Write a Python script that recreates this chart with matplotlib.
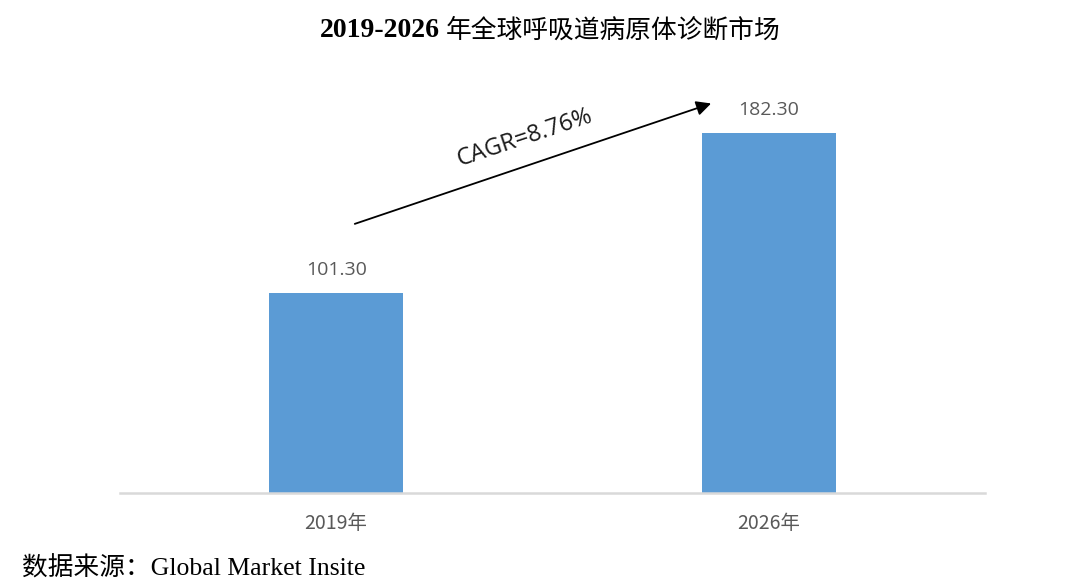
import matplotlib.pyplot as plt

years = ['2019年', '2026年']
market = [101.30, 182.30]
value_labels = ['101.30', '182.30']
cagr_text = 'CAGR=8.76%'
title_years = '2019-2026'
title_rest = '年全球呼吸道病原体诊断市场'
source = '数据来源：Global Market Insite'

plt.rcParams['font.family'] = ['Open Sans', 'Noto Sans CJK SC', 'DejaVu Sans']

fig = plt.figure(figsize=(10.8, 5.87), dpi=100)
ax = fig.add_axes([0.111, 0.160, 0.801, 0.704])

x = list(range(len(years)))
bars = ax.bar(x, market, width=0.31, color='#5b9bd5', zorder=2)
ax.set_xlim(-0.5, 1.5)
ax.set_ylim(0, 209)

# value labels on top of the bars
for xi, v, lab in zip(x, market, value_labels):
    ax.annotate(lab, (xi, v), xytext=(0, 10), textcoords='offset points',
                ha='center', va='bottom', fontsize=14, color='#595959')

ax.set_xticks(x)
ax.set_xticklabels(years, fontsize=14, color='#595959',
                   family=['Noto Sans CJK SC', 'DejaVu Sans'])
ax.tick_params(axis='x', length=0, pad=14)
ax.set_yticks([])
for s in ['top', 'right', 'left']:
    ax.spines[s].set_visible(False)
ax.spines['bottom'].set_color('#d9d9d9')
ax.spines['bottom'].set_linewidth(1.8)

# growth arrow
ax.annotate('', xy=(0.873, 197.5), xytext=(0.037, 135.7),
            arrowprops=dict(arrowstyle='-|>', color='black', lw=1.3,
                            mutation_scale=22))
ax.text(0.435, 179.5, cagr_text, rotation=18.5, ha='center', va='center',
        fontsize=17, color='#1a1a1a')

# title: bold serif years + regular CJK
fig.text(440 / 1080, 0.948, title_years, ha='right', va='center',
         fontsize=20, fontweight='bold', family='Liberation Serif')
fig.text(446 / 1080, 0.948, title_rest, ha='left', va='center',
         fontsize=18.5, family=['Noto Sans CJK SC', 'DejaVu Sans'])
fig.text(0.02, 0.032, source, ha='left', va='center',
         fontsize=18.5, family=['Liberation Serif', 'Noto Sans CJK SC'])

fig.savefig('out.png', dpi=100)
